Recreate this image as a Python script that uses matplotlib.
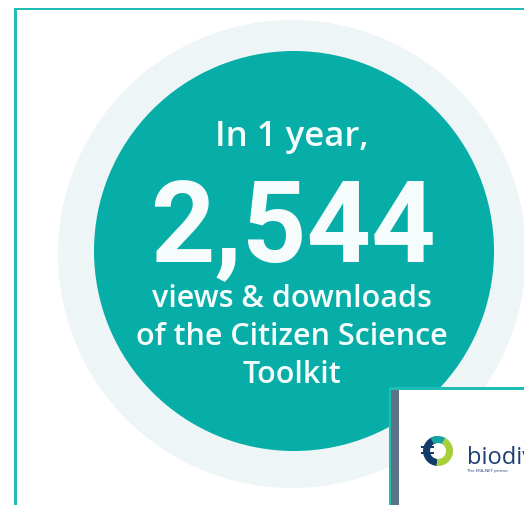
import matplotlib
matplotlib.use("Agg")
import matplotlib.pyplot as plt
from matplotlib.patches import Circle, Rectangle, Wedge

# ---- content ----
period_label = "In 1 year,"
headline_value = 2544
caption_lines = ["views & downloads", "of the Citizen Science", "Toolkit"]
logo_word = "biodiv"
logo_tagline = "The ERA-NET promo"

TEAL = "#06aea7"
PALE = "#eef5f6"
BORDER = "#1fbdb6"
TEXT = "#f6fbfb"

W, H = 524, 506
fig = plt.figure(figsize=(W / 100, H / 100), dpi=100)
ax = fig.add_axes([0, 0, 1, 1])
ax.set_xlim(0, W)
ax.set_ylim(H, 0)
ax.axis("off")
fig.patch.set_facecolor("white")

# frame lines (top and left)
ax.add_patch(Rectangle((14, 8.5), W, 2.6, color=BORDER, lw=0))
ax.add_patch(Rectangle((14, 8.5), 2.6, H, color=BORDER, lw=0))

# circles
ax.add_patch(Circle((292, 255), 234, color=PALE, lw=0))
ax.add_patch(Circle((294, 252), 200, color=TEAL, lw=0))

# text
cx = 292
ax.text(cx, 146, period_label, ha="center", va="baseline", color=TEXT,
        fontsize=25, family="Open Sans", fontweight="semibold")
ax.text(cx + 1, 262, f"{headline_value:,}", ha="center", va="baseline", color=TEXT,
        fontsize=81, family="Roboto", fontweight="bold")
for i, line in enumerate(caption_lines):
    ax.text(cx, 307 + i * 38, line, ha="center", va="baseline", color=TEXT,
            fontsize=22, family="Open Sans", fontweight="semibold")

# bottom-right inset card
ax.add_patch(Rectangle((389, 388), W - 389, H - 388, color=BORDER, lw=0))
ax.add_patch(Rectangle((391, 390.5), W - 391, H - 390, color="#5c7387", lw=0))
ax.add_patch(Rectangle((399, 390.5), W - 399, H - 390, color="white", lw=0))

# logo mark
lc = (438, 452)
ax.add_patch(Wedge(lc, 15, 95, 265, width=7, color="#123a6b", lw=0))
ax.add_patch(Wedge(lc, 15, 240, 300, width=7, color="#17a3a0", lw=0))
ax.add_patch(Wedge(lc, 15, -60, 95, width=7, color="#a7cf3a", lw=0))
ax.add_patch(Rectangle((421, 447), 13, 2.2, color="#123a6b", lw=0))
ax.add_patch(Rectangle((421, 453), 13, 2.2, color="#123a6b", lw=0))
ax.text(467, 464, logo_word, ha="left", va="baseline", color="#1d3f74",
        fontsize=17, family="Open Sans", clip_on=True)
ax.text(467, 472, logo_tagline, ha="left", va="baseline", color="#1d3f74",
        fontsize=3.2, family="Open Sans")

fig.savefig("out.png", dpi=100)
